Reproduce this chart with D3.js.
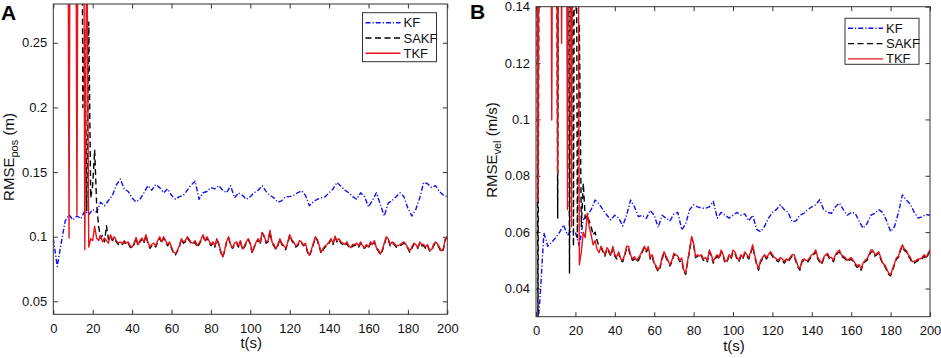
<!DOCTYPE html>
<html><head><meta charset="utf-8">
<script src="https://cdn.jsdelivr.net/npm/d3@7"></script>
<style>body{margin:0;background:#fff} svg{display:block}</style>
</head><body>
<svg id="chart" width="941" height="358"></svg>
<script>
// ---------------- DATA ----------------
const xTicks = [0,20,40,60,80,100,120,140,160,180,200];
const posTicks = [0.05,0.1,0.15,0.2,0.25];
const velTicks = [0.04,0.06,0.08,0.1,0.12,0.14];
const seriesNames = ["KF","SAKF","TKF"];
const kfStep = 2;   // KF sampled every 2 s
const fStep = 1;    // SAKF / TKF sampled every 1 s

// Panel A: RMSE_pos (m)
const kfPos = [
0.0985,0.077,0.095,0.112,0.117,0.113,0.116,0.114,0.120,0.117,
0.121,0.119,0.1267,0.124,0.128,0.1318,0.140,0.1446,0.137,0.135,
0.130,0.127,0.129,0.134,0.1395,0.136,0.1405,0.138,0.134,0.137,
0.132,0.129,0.131,0.132,0.136,0.140,0.143,0.129,0.134,0.135,
0.138,0.137,0.1395,0.136,0.134,0.1395,0.130,0.134,0.132,0.129,
0.131,0.134,0.136,0.1395,0.135,0.132,0.130,0.1267,0.128,0.131,
0.131,0.132,0.134,0.1356,0.132,0.124,0.127,0.129,0.130,0.131,
0.134,0.137,0.142,0.139,0.136,0.134,0.131,0.129,0.134,0.131,
0.123,0.128,0.134,0.125,0.116,0.126,0.128,0.131,0.134,0.131,
0.122,0.116,0.121,0.130,0.142,0.141,0.138,0.1395,0.135,0.132,
0.131];
const sakfPos = [
0.6,0.6,0.6,0.6,0.6,0.6,0.6,0.6,0.6,0.6,
0.6,0.6,0.6,0.6,0.6,0.20,0.26,0.12,0.266,0.13,
0.14,0.167,0.125,0.108,0.099,0.101,0.096,0.1085,0.098,0.1005,
0.097,0.099,0.096,0.094,0.095,0.094,0.096,0.094,0.095,0.092,
0.091,0.094,0.099,0.093,0.096,0.098,0.095,0.101,0.095,0.091,
0.093,0.094,0.092,0.096,0.099,0.095,0.099,0.096,0.093,0.095,
0.091,0.087,0.086,0.089,0.092,0.098,0.095,0.096,0.099,0.097,
0.095,0.094,0.096,0.092,0.094,0.097,0.101,0.096,0.099,0.096,
0.093,0.095,0.092,0.098,0.094,0.088,0.084,0.089,0.096,0.099,
0.093,0.091,0.094,0.095,0.092,0.096,0.090,0.092,0.095,0.098,
0.094,0.087,0.092,0.095,0.098,0.094,0.103,0.100,0.095,0.096,
0.104,0.095,0.093,0.090,0.093,0.098,0.094,0.092,0.090,0.095,
0.101,0.097,0.095,0.092,0.093,0.096,0.095,0.093,0.094,0.088,
0.085,0.089,0.094,0.099,0.097,0.092,0.087,0.090,0.092,0.093,
0.095,0.098,0.094,0.100,0.096,0.098,0.095,0.094,0.093,0.095,
0.092,0.091,0.093,0.093,0.094,0.092,0.095,0.092,0.091,0.093,
0.091,0.095,0.093,0.096,0.091,0.089,0.086,0.089,0.094,0.099,
0.098,0.093,0.095,0.094,0.092,0.092,0.093,0.094,0.095,0.093,
0.091,0.088,0.091,0.094,0.093,0.091,0.095,0.093,0.093,0.091,
0.093,0.089,0.089,0.093,0.095,0.094,0.091,0.088,0.090,0.098,
0.099];
const tkfPos = [
0.6,0.6,0.6,0.6,0.6,0.6,0.6,0.6,0.099,0.6,
0.6,0.6,0.117,0.6,0.6,0.6,0.090,0.35,0.092,0.0985,
0.097,0.108,0.099,0.097,0.101,0.096,0.099,0.097,0.095,0.1015,
0.098,0.100,0.097,0.095,0.096,0.0945,0.097,0.095,0.096,0.093,
0.092,0.095,0.0995,0.094,0.097,0.099,0.096,0.1015,0.096,0.092,
0.094,0.095,0.093,0.097,0.100,0.096,0.100,0.097,0.094,0.096,
0.092,0.088,0.087,0.0895,0.093,0.0985,0.096,0.097,0.100,0.098,
0.0955,0.095,0.097,0.093,0.095,0.098,0.1015,0.097,0.100,0.097,
0.094,0.096,0.093,0.0985,0.095,0.089,0.0844,0.090,0.0965,0.100,
0.094,0.0915,0.095,0.096,0.093,0.097,0.0905,0.093,0.096,0.0985,
0.095,0.088,0.0925,0.096,0.0985,0.095,0.1033,0.101,0.096,0.097,
0.105,0.096,0.094,0.0905,0.094,0.0985,0.095,0.093,0.091,0.096,
0.1015,0.098,0.096,0.093,0.094,0.097,0.096,0.0935,0.095,0.089,
0.0856,0.090,0.095,0.100,0.098,0.093,0.088,0.091,0.093,0.094,
0.096,0.0985,0.095,0.1005,0.097,0.0985,0.096,0.095,0.094,0.096,
0.093,0.0915,0.094,0.094,0.095,0.093,0.096,0.093,0.0915,0.094,
0.092,0.096,0.094,0.097,0.0915,0.090,0.0865,0.090,0.095,0.100,
0.0985,0.094,0.096,0.095,0.093,0.093,0.094,0.095,0.096,0.094,
0.0915,0.089,0.092,0.095,0.094,0.0915,0.096,0.094,0.094,0.092,
0.094,0.0895,0.090,0.094,0.096,0.0945,0.092,0.089,0.091,0.0985,
0.100];

// Panel B: RMSE_vel (m/s)
const kfVel = [
0.020,0.036,0.0597,0.055,0.0565,0.058,0.060,0.0625,0.059,0.0605,
0.060,0.055,0.0644,0.066,0.068,0.0714,0.070,0.068,0.066,0.0644,
0.066,0.065,0.0622,0.066,0.0714,0.069,0.0655,0.066,0.0649,0.0677,
0.066,0.0617,0.066,0.065,0.064,0.0665,0.067,0.0608,0.063,0.068,
0.0697,0.069,0.0685,0.0685,0.069,0.0709,0.065,0.067,0.066,0.065,
0.066,0.067,0.066,0.0665,0.064,0.066,0.061,0.0602,0.062,0.065,
0.067,0.068,0.0697,0.068,0.067,0.0637,0.064,0.066,0.0667,0.068,
0.069,0.0697,0.0715,0.068,0.067,0.0667,0.069,0.0703,0.068,0.066,
0.067,0.0667,0.064,0.0614,0.063,0.066,0.0667,0.068,0.067,0.064,
0.0602,0.062,0.067,0.0732,0.0714,0.070,0.067,0.065,0.0655,0.0663,
0.066];
const sakfVel = [
0.30,0.025,0.30,0.30,0.30,0.30,0.30,0.30,0.30,0.30,
0.30,0.065,0.30,0.30,0.30,0.30,0.30,0.0455,0.30,0.055,
0.30,0.058,0.134,0.062,0.0774,0.065,0.066,0.064,0.062,0.059,
0.060,0.057,0.055,0.0545,0.053,0.0515,0.054,0.053,0.0515,0.054,
0.0515,0.0505,0.0525,0.050,0.0495,0.0515,0.0545,0.054,0.0515,0.050,
0.0505,0.0495,0.050,0.0515,0.053,0.0545,0.053,0.054,0.0505,0.0515,
0.0485,0.0475,0.046,0.0475,0.0505,0.0525,0.051,0.0495,0.048,0.0495,
0.052,0.0515,0.051,0.0495,0.050,0.046,0.045,0.0495,0.0535,0.058,
0.0555,0.051,0.0515,0.051,0.0515,0.050,0.0505,0.0495,0.053,0.0515,
0.049,0.0505,0.0515,0.0505,0.053,0.0515,0.049,0.0495,0.0515,0.0505,
0.053,0.0525,0.0505,0.0495,0.0515,0.0505,0.0525,0.0515,0.0505,0.0525,
0.055,0.0515,0.0485,0.0465,0.0495,0.0505,0.0515,0.0505,0.0515,0.0525,
0.0515,0.0505,0.050,0.0495,0.0505,0.050,0.049,0.050,0.0495,0.0505,
0.0515,0.0515,0.0495,0.0475,0.0465,0.0495,0.050,0.0495,0.0495,0.0505,
0.0515,0.052,0.053,0.0505,0.0495,0.0485,0.0505,0.0515,0.052,0.0505,
0.0505,0.0495,0.0515,0.0525,0.053,0.0515,0.051,0.0505,0.0495,0.050,
0.0505,0.0495,0.0485,0.0475,0.048,0.0465,0.0485,0.0495,0.050,0.0515,
0.053,0.053,0.0515,0.052,0.0525,0.0505,0.0485,0.048,0.0465,0.045,
0.0445,0.0465,0.0485,0.0505,0.051,0.0535,0.055,0.0535,0.053,0.0515,
0.0505,0.049,0.049,0.0495,0.050,0.050,0.0505,0.0515,0.0505,0.052,
0.053];
const tkfVel = [
0.30,0.071,0.30,0.30,0.30,0.30,0.30,0.30,0.0998,0.30,
0.30,0.081,0.30,0.127,0.30,0.30,0.068,0.30,0.062,0.30,
0.30,0.30,0.0484,0.053,0.060,0.058,0.0667,0.062,0.059,0.0555,
0.057,0.054,0.0527,0.055,0.0535,0.052,0.0545,0.0536,0.052,0.0549,
0.052,0.0513,0.053,0.0505,0.050,0.052,0.055,0.0549,0.052,0.0505,
0.0513,0.050,0.0508,0.052,0.0535,0.055,0.0535,0.0549,0.051,0.052,
0.049,0.048,0.0466,0.048,0.051,0.0531,0.0515,0.050,0.0484,0.050,
0.0525,0.052,0.0515,0.050,0.0508,0.0465,0.0455,0.050,0.054,0.0585,
0.056,0.0514,0.052,0.0515,0.052,0.0505,0.051,0.050,0.0537,0.052,
0.0496,0.051,0.052,0.051,0.0537,0.052,0.0496,0.050,0.052,0.051,
0.0537,0.053,0.051,0.050,0.052,0.051,0.053,0.052,0.051,0.053,
0.0555,0.052,0.049,0.047,0.050,0.051,0.052,0.051,0.052,0.0531,
0.052,0.051,0.0505,0.050,0.051,0.0505,0.0496,0.0505,0.050,0.051,
0.052,0.052,0.050,0.048,0.047,0.050,0.0505,0.050,0.050,0.051,
0.052,0.0525,0.0537,0.051,0.050,0.049,0.051,0.052,0.0525,0.051,
0.051,0.050,0.052,0.053,0.0537,0.052,0.0515,0.051,0.050,0.0505,
0.051,0.050,0.049,0.048,0.0485,0.047,0.049,0.050,0.0505,0.052,
0.0537,0.0537,0.052,0.0525,0.053,0.051,0.049,0.0484,0.047,0.0455,
0.0449,0.047,0.049,0.051,0.0514,0.054,0.0555,0.054,0.0535,0.052,
0.051,0.0496,0.0496,0.050,0.0505,0.0505,0.051,0.052,0.051,0.0525,
0.0537];

// ---------------- STYLE ----------------
const FONT = "'Liberation Sans Narrow','Liberation Sans',Arial,sans-serif";
const styles = {
  KF:   {color:"#1010f0", dash:"5,2,1.2,2"},
  SAKF: {color:"#000000", dash:"6,3.5"},
  TKF:  {color:"#e8141b", dash:null}
};

const svg = d3.select("#chart");

function drawPanel(o) {
  const W = o.x1 - o.x0, H = o.y1 - o.y0;
  const x = d3.scaleLinear().domain([0,200]).range([o.x0,o.x1]);
  const y = d3.scaleLinear().domain(o.yDomain).range([o.y1,o.y0]);
  const g = svg.append("g");
  const clipId = "clip" + o.id;
  g.append("clipPath").attr("id",clipId).append("rect")
    .attr("x",o.x0).attr("y",o.y0).attr("width",W).attr("height",H);

  // axes (ticks inside, mirrored)
  const bottom = g.append("g").attr("transform",`translate(0,${o.y1})`)
    .call(d3.axisBottom(x).tickValues(xTicks).tickSize(-4.5).tickPadding(9).tickFormat(d3.format("d")));
  const top = g.append("g").attr("transform",`translate(0,${o.y0})`)
    .call(d3.axisTop(x).tickValues(xTicks).tickSize(-4.5).tickFormat(""));
  const left = g.append("g").attr("transform",`translate(${o.x0},0)`)
    .call(d3.axisLeft(y).tickValues(o.yTicks).tickSize(-4.5).tickPadding(6).tickFormat(d => String(+d.toFixed(3))));
  const right = g.append("g").attr("transform",`translate(${o.x1},0)`)
    .call(d3.axisRight(y).tickValues(o.yTicks).tickSize(-4.5).tickFormat(""));
  [bottom,top,left,right].forEach(a => {
    a.select(".domain").remove();
    a.selectAll(".tick line").attr("stroke","#333").attr("stroke-width",1);
    a.selectAll("text").attr("font-family",FONT).attr("font-size",13).attr("fill","#111");
  });

  // series
  const lines = g.append("g").attr("clip-path",`url(#${clipId})`);
  o.series.forEach(s => {
    const st = styles[s.name];
    const line = d3.line().x((d,i) => x(i*s.step)).y(d => y(d));
    lines.append("path").datum(s.values)
      .attr("d",line).attr("fill","none")
      .attr("stroke",st.color).attr("stroke-width",1.4)
      .attr("stroke-dasharray",st.dash)
      .attr("stroke-linejoin","round");
  });

  // box
  g.append("rect").attr("x",o.x0).attr("y",o.y0).attr("width",W).attr("height",H)
    .attr("fill","none").attr("stroke","#333").attr("stroke-width",1);

  // x label
  g.append("text").attr("x",(o.x0+o.x1)/2+1).attr("y",o.y1+34)
    .attr("text-anchor","middle").attr("font-family",FONT).attr("font-size",15).attr("fill","#111")
    .text("t(s)");

  // y label with subscript
  const yl = g.append("text")
    .attr("transform",`translate(${o.ylabX},${o.ylabY}) rotate(-90)`)
    .attr("text-anchor","middle").attr("font-family",FONT).attr("font-size",15).attr("fill","#111");
  yl.append("tspan").text("RMSE");
  yl.append("tspan").attr("font-size",11).attr("dy",4).text(o.sub);
  yl.append("tspan").attr("dy",-4).text(" " + o.unit);

  // panel letter
  svg.append("text").attr("x",o.letterX).attr("y",o.letterY)
    .attr("font-family","'Liberation Sans',Arial,sans-serif").attr("font-weight","bold")
    .attr("font-size",21).attr("fill","#000").text(o.letter);

  // legend
  const L = o.legend;
  const lg = g.append("g");
  lg.append("rect").attr("x",L.x).attr("y",L.y).attr("width",L.w).attr("height",L.h)
    .attr("fill","#fff").attr("stroke","#333").attr("stroke-width",1);
  seriesNames.forEach((n,i) => {
    const yy = L.y + 10 + i*15.3;
    const st = styles[n];
    lg.append("line").attr("x1",L.x+3).attr("x2",L.x+38).attr("y1",yy).attr("y2",yy)
      .attr("stroke",st.color).attr("stroke-width",1.4).attr("stroke-dasharray",st.dash);
    lg.append("text").attr("x",L.x+41).attr("y",yy+4.5)
      .attr("font-family",FONT).attr("font-size",13).attr("fill","#111").text(n);
  });
}

drawPanel({
  id:"A", x0:53.3, x1:447.3, y0:4, y1:314.3,
  yDomain:[0.04,0.28], yTicks:posTicks,
  series:[{name:"KF",values:kfPos,step:kfStep},{name:"SAKF",values:sakfPos,step:fStep},{name:"TKF",values:tkfPos,step:fStep}],
  sub:"pos", unit:"(m)", ylabX:14, ylabY:157,
  letter:"A", letterX:1, letterY:20,
  legend:{x:362.5,y:12.7,w:74,h:49}
});
drawPanel({
  id:"B", x0:536, x1:930, y0:6.7, y1:316.7,
  yDomain:[0.03,0.14], yTicks:velTicks,
  series:[{name:"KF",values:kfVel,step:kfStep},{name:"SAKF",values:sakfVel,step:fStep},{name:"TKF",values:tkfVel,step:fStep}],
  sub:"vel", unit:"(m/s)", ylabX:497, ylabY:150,
  letter:"B", letterX:470, letterY:19,
  legend:{x:845,y:18.3,w:74,h:46}
});
</script>
</body></html>
